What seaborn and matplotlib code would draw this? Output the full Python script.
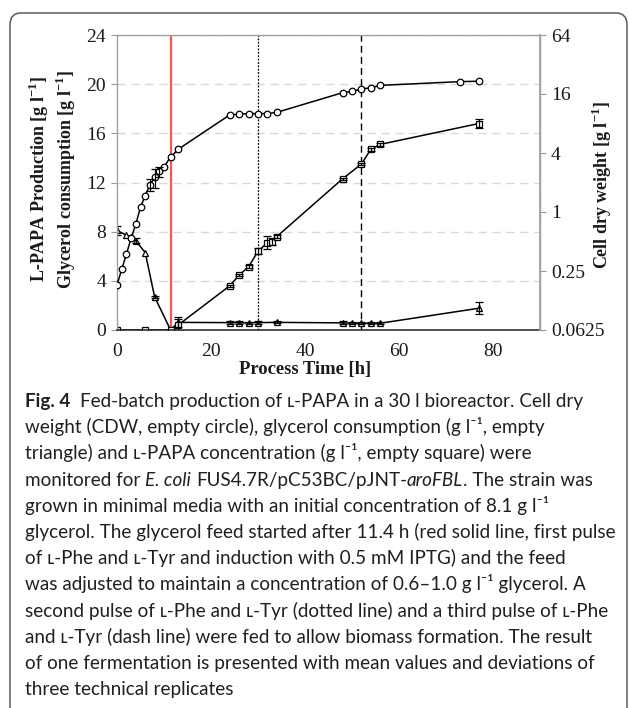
import numpy as np
import pandas as pd
import matplotlib
matplotlib.use('Agg')
import matplotlib.pyplot as plt
import seaborn as sns
from matplotlib import font_manager
from matplotlib.patches import FancyBboxPatch

# ---- data ----
cdw_time = [0, 1, 2, 3, 4, 5, 6, 7, 8, 9, 10, 11.4, 13, 24, 26, 28, 30, 32, 34,
            48, 50, 52, 54, 56, 73, 77]
cdw_value = [0.18, 0.26, 0.37, 0.54, 0.75, 1.12, 1.47, 1.89, 2.25, 2.59, 2.90, 3.62,
             4.36, 9.8, 9.95, 10.1, 10.1, 10.1, 10.4, 16.5, 17.0, 18.0, 18.5, 19.6,
             21.4, 21.6]
cdw_err = [0, 0, 0, 0, 0, 0, 0, 0.27, 0.5, 0.3, 0, 0, 0, 0, 0, 0, 0, 0, 0,
           0, 0, 0, 0, 0, 0, 0]

gly_time = [0, 2, 3, 4, 6, 8, 11.4, 13, 24, 26, 28, 30, 34, 48, 50, 52, 54, 56, 77]
gly_value = [8.1, 7.7, 7.55, 7.25, 6.3, 2.7, 0, 0.62, 0.6, 0.58, 0.58, 0.6, 0.62,
             0.58, 0.55, 0.55, 0.55, 0.55, 1.77]
gly_err = [0.4, 0, 0, 0.2, 0, 0.1, 0, 0.4, 0.1, 0.12, 0.1, 0.12, 0.08, 0.12, 0.1,
           0.1, 0.1, 0.1, 0.5]

papa_time = [0, 6, 11.4, 13, 24, 26, 28, 30, 32, 33, 34, 48, 52, 54, 56, 77]
papa_value = [0, 0, 0, 0.4, 3.6, 4.47, 5.15, 6.4, 7.1, 7.2, 7.6, 12.3, 13.5, 14.7,
              15.1, 16.8]
papa_err = [0, 0, 0, 0.5, 0.1, 0.1, 0.1, 0.25, 0.55, 0.3, 0.1, 0.1, 0.1, 0.1, 0.1,
            0.35]

feed_start = 11.4
second_pulse = 30
third_pulse = 52

x_ticks = [0, 20, 40, 60, 80]
left_ticks = [0, 4, 8, 12, 16, 20, 24]
right_ticks = [0.0625, 0.25, 1, 4, 16, 64]
right_ticklabels = ['0.0625', '0.25', '1', '4', '16', '64']

# caption: (spaces before, text, style)
caption = [
    [(0, 'Fig. 4', 'b'), (2, 'Fed-batch production of ʟ-PAPA in a 30 l bioreactor. Cell dry', 'n')],
    [(0, 'weight (CDW, empty circle), glycerol consumption (g l⁻¹, empty', 'n')],
    [(0, 'triangle) and ʟ-PAPA concentration (g l⁻¹, empty square) were', 'n')],
    [(0, 'monitored for', 'n'), (1, 'E. coli', 'i'), (1, 'FUS4.7R/pC53BC/pJNT-', 'n'),
     (0, 'aroFBL', 'i'), (0, '. The strain was', 'n')],
    [(0, 'grown in minimal media with an initial concentration of 8.1 g l⁻¹', 'n')],
    [(0, 'glycerol. The glycerol feed started after 11.4 h (red solid line, first pulse', 'n')],
    [(0, 'of ʟ-Phe and ʟ-Tyr and induction with 0.5 mM IPTG) and the feed', 'n')],
    [(0, 'was adjusted to maintain a concentration of 0.6–1.0 g l⁻¹ glycerol. A', 'n')],
    [(0, 'second pulse of ʟ-Phe and ʟ-Tyr (dotted line) and a third pulse of ʟ-Phe', 'n')],
    [(0, 'and ʟ-Tyr (dash line) were fed to allow biomass formation. The result', 'n')],
    [(0, 'of one fermentation is presented with mean values and deviations of', 'n')],
    [(0, 'three technical replicates', 'n')],
]


def pick_font(names):
    for name in names:
        try:
            font_manager.findfont(font_manager.FontProperties(family=name),
                                  fallback_to_default=False)
            return name
        except Exception:
            continue
    return 'DejaVu Sans'


sns.set_theme(style='white')
serif = 'Liberation Serif'
plt.rcParams['font.family'] = [serif, 'DejaVu Serif']
plt.rcParams['mathtext.fontset'] = 'custom'
plt.rcParams['mathtext.rm'] = serif
plt.rcParams['mathtext.bf'] = serif + ':bold'

W, H = 629, 708
fig = plt.figure(figsize=(W / 100, H / 100), dpi=100)
fig.patch.set_facecolor('white')

# rounded frame (only top, left and the top-right corner fall inside the picture)
frame = FancyBboxPatch((10 / W, -0.2), (627 - 10) / W, 0.2 + (H - 13) / H,
                       boxstyle='round,pad=0,rounding_size=0.017',
                       transform=fig.transFigure, fill=False,
                       edgecolor='#5a5a5a', linewidth=1.1)
fig.patches.append(frame)

# plot area
L, R, T, B = 117, 540, 35, 330
ax = fig.add_axes([L / W, 1 - B / H, (R - L) / W, (B - T) / H])
ax.set_facecolor('white')

ax.yaxis.grid(True, color='#d9d9d9', linestyle=(0, (6, 4)), linewidth=1.0)
ax.set_axisbelow(True)

ax.axvline(feed_start, color='#f25757', lw=1.6, zorder=1.5)
ax.axvline(second_pulse, color='black', lw=0.9, linestyle=(0, (1.5, 1.2)), zorder=1.5)
ax.axvline(third_pulse, color='black', lw=1.0, linestyle=(0, (5, 3)), zorder=1.5)

mk = dict(color='black', markerfacecolor='white', markeredgecolor='black',
          markersize=4.7, markeredgewidth=0.9, linewidth=1.1)
eb = dict(fmt='none', ecolor='black', elinewidth=0.9, capsize=3, capthick=0.9)

gly = pd.DataFrame({'t': gly_time, 'v': gly_value, 'e': gly_err})
papa = pd.DataFrame({'t': papa_time, 'v': papa_value, 'e': papa_err})
cdw = pd.DataFrame({'t': cdw_time, 'v': cdw_value, 'e': cdw_err})

sns.lineplot(data=gly, x='t', y='v', ax=ax, marker='^', sort=False, errorbar=None,
             **dict(mk, markersize=5.0))
sns.lineplot(data=papa, x='t', y='v', ax=ax, marker='s', sort=False, errorbar=None,
             **dict(mk, markersize=4.4))
g = gly[gly.e > 0]
ax.errorbar(g.t, g.v, yerr=g.e, **eb)
p = papa[papa.e > 0]
ax.errorbar(p.t, p.v, yerr=p.e, **eb)

ax.set_xlim(0, 90)
ax.set_ylim(0, 24)
ax.set_xticks(x_ticks)
ax.set_yticks(left_ticks)
ax.set_xlabel('')
ax.set_ylabel('')
ax.tick_params(axis='x', length=0, pad=9, labelsize=14, colors='#1a1a1a')
ax.tick_params(axis='y', direction='out', length=4, width=0.8, color='#999999',
               pad=4, labelsize=14, labelcolor='#1a1a1a')
for s in ['left', 'top', 'right']:
    ax.spines[s].set_color('#a0a0a0')
    ax.spines[s].set_linewidth(1.0)
ax.spines['bottom'].set_color('#202020')
ax.spines['bottom'].set_linewidth(1.1)

# cell dry weight on the log2 right axis
ax2 = ax.twinx()
sns.lineplot(data=cdw, x='t', y='v', ax=ax2, marker='o', sort=False, errorbar=None, **mk)
c = cdw[cdw.e > 0]
ax2.errorbar(c.t, c.v, yerr=c.e, **eb)
ax2.set_yscale('log', base=2)
ax2.set_ylim(0.0625, 64)
ax2.set_yticks(right_ticks)
ax2.set_yticklabels(right_ticklabels)
ax2.minorticks_off()
ax2.set_ylabel('')
ax2.set_xlim(0, 90)
ax2.tick_params(axis='y', direction='out', length=4, width=0.8, color='#999999',
                pad=4, labelsize=14, labelcolor='#1a1a1a')
for s in ['left', 'top', 'bottom']:
    ax2.spines[s].set_visible(False)
ax2.spines['right'].set_color('#a0a0a0')

# axis titles
lab = dict(fontweight='bold', fontsize=13, color='#1a1a1a', family=[serif, 'DejaVu Serif'])
sup = r'[g l$^{\mathbf{-1}}$]'
fig.text(52.5 / W, 1 - 179 / H,
         'L-PAPA Production ' + sup + '\nGlycerol consumption ' + sup,
         rotation=90, ha='center', va='center', multialignment='center',
         linespacing=1.15, **lab)
fig.text(602 / W, 1 - 185 / H, 'Cell dry weight ' + sup, rotation=90,
         ha='center', va='center', **lab)
fig.text(305 / W, 1 - 369 / H, 'Process Time [h]', ha='center', va='center',
         **dict(lab, fontsize=13.4))

# caption
cap_font = pick_font(['Liberation Sans Narrow', 'Lato', 'Open Sans'])
fams = [cap_font, 'Noto Sans', 'DejaVu Sans']
styles = {'n': dict(fontweight='normal', fontstyle='normal'),
          'b': dict(fontweight='bold', fontstyle='normal'),
          'i': dict(fontweight='normal', fontstyle='italic')}
renderer = fig.canvas.get_renderer()


def width_of(txt, size, st):
    t = fig.text(0, 0, txt, fontsize=size, family=fams, **styles[st])
    w = t.get_window_extent(renderer).width
    t.remove()
    return w


def line_width(line, size):
    sp = width_of('x x', size, 'n') - width_of('xx', size, 'n')
    return sum(g * sp + width_of(txt, size, st) for g, txt, st in line)


base = 12.0
x0 = 25
size = base * (614 - x0) / line_width(caption[5], base)
space = width_of('x x', size, 'n') - width_of('xx', size, 'n')

y0, step = 407, 26.2
for i, line in enumerate(caption):
    x = x0
    y = y0 + i * step
    for gap, txt, st in line:
        x += gap * space
        t = fig.text(x / W, 1 - y / H, txt, fontsize=size, family=fams,
                     color='#231f20', va='baseline', ha='left', **styles[st])
        x += t.get_window_extent(renderer).width

fig.savefig('out.png', dpi=100, facecolor='white')
